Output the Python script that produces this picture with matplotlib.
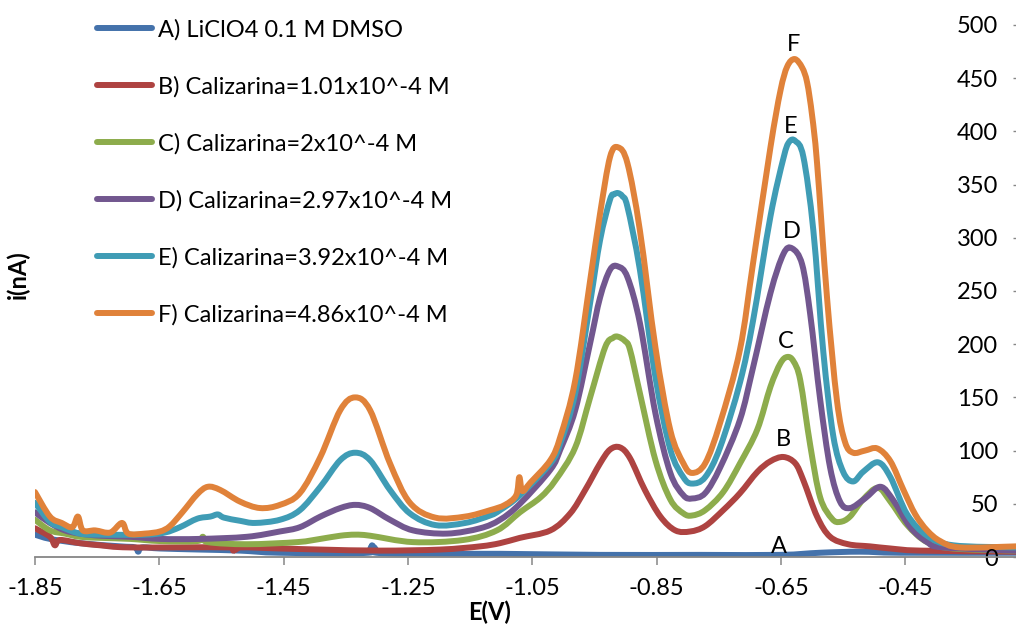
import matplotlib
matplotlib.use("Agg")
import matplotlib.pyplot as plt
from matplotlib.path import Path
from matplotlib.patches import PathPatch
from matplotlib.lines import Line2D

plt.rcParams['font.family'] = ['Lato', 'DejaVu Sans']
plt.rcParams['axes.unicode_minus'] = False

# ---- data (E in V, i in nA) ----
xA = [-1.850, -1.826, -1.778, -1.713, -1.689, -1.684, -1.678, -1.649, -1.585, -1.520, -1.456,
      -1.314, -1.308, -1.301, -1.198, -1.102, -0.941, -0.780, -0.651, -0.587, -0.523, -0.458, -0.272]
yA = [21, 17, 13, 10, 9, 5, 9, 8, 7, 6, 4,
      4, 11, 4, 3, 3, 2, 2, 2, 4, 5, 4, 4]

xB = [-1.850, -1.826, -1.818, -1.810, -1.778, -1.745, -1.697, -1.539, -1.531, -1.520, -1.456,
      -1.391, -1.295, -1.198, -1.134, -1.102, -1.070, -1.021, -0.989, -0.965, -0.941, -0.925,
      -0.909, -0.893, -0.869, -0.844, -0.820, -0.796, -0.772, -0.743, -0.716, -0.688, -0.667,
      -0.646, -0.627, -0.614, -0.592, -0.571, -0.542, -0.507, -0.474, -0.426, -0.272]
yB = [27, 19, 11, 16, 13, 11, 9, 9, 6, 9, 8,
      7, 6, 7, 10, 13, 18, 25, 41, 63, 88, 101,
      103, 93, 63, 38, 25, 24, 29, 44, 60, 80, 90,
      94, 88, 72, 38, 19, 12, 10, 8, 6, 5]

xC = [-1.850, -1.826, -1.802, -1.778, -1.745, -1.697, -1.649, -1.589, -1.580, -1.572, -1.509,
      -1.428, -1.391, -1.359, -1.335, -1.311, -1.242, -1.161, -1.107, -1.070, -1.037, -1.013,
      -0.981, -0.957, -0.933, -0.920, -0.912, -0.901, -0.893, -0.877, -0.852, -0.828, -0.807,
      -0.793, -0.772, -0.743, -0.716, -0.688, -0.667, -0.651, -0.640, -0.630, -0.619, -0.603,
      -0.587, -0.568, -0.555, -0.539, -0.518, -0.494, -0.474, -0.447, -0.415, -0.373, -0.272]
yC = [35, 25, 22, 19, 18, 17, 15, 15, 19, 14, 12,
      14, 17, 20, 21, 20, 14, 16, 25, 42, 56, 72,
      103, 150, 197, 206, 207, 203, 195, 154, 91, 54, 41,
      39, 44, 61, 88, 120, 160, 182, 188, 184, 166, 105,
      56, 36, 33, 38, 54, 65, 52, 30, 14, 8, 6]

xD = [-1.850, -1.826, -1.802, -1.778, -1.745, -1.697, -1.649, -1.585, -1.509, -1.456, -1.424,
      -1.391, -1.359, -1.335, -1.311, -1.279, -1.242, -1.187, -1.134, -1.102, -1.070, -1.021,
      -1.005, -0.981, -0.957, -0.941, -0.925, -0.912, -0.897, -0.877, -0.852, -0.828, -0.807,
      -0.793, -0.772, -0.748, -0.716, -0.695, -0.667, -0.646, -0.632, -0.616, -0.603, -0.587,
      -0.571, -0.555, -0.539, -0.515, -0.490, -0.469, -0.442, -0.415, -0.389, -0.272]
yD = [42, 32, 25, 22, 20, 19, 17, 17, 19, 24, 28,
      38, 46, 49, 46, 35, 25, 22, 27, 35, 50, 82,
      101, 138, 201, 244, 270, 273, 263, 220, 135, 79, 58,
      55, 60, 84, 129, 178, 248, 285, 290, 275, 228, 148,
      84, 52, 46, 55, 66, 53, 28, 14, 9, 6]

xE = [-1.850, -1.826, -1.807, -1.778, -1.745, -1.673, -1.641, -1.617, -1.589, -1.568, -1.556,
      -1.546, -1.520, -1.496, -1.456, -1.424, -1.391, -1.359, -1.335, -1.311, -1.279, -1.247,
      -1.206, -1.158, -1.118, -1.102, -1.070, -1.021, -1.005, -0.981, -0.957, -0.941, -0.925,
      -0.918, -0.912, -0.905, -0.897, -0.877, -0.852, -0.828, -0.807, -0.793, -0.772, -0.748,
      -0.716, -0.695, -0.667, -0.646, -0.637, -0.627, -0.614, -0.598, -0.582, -0.566, -0.550,
      -0.534, -0.518, -0.494, -0.474, -0.447, -0.415, -0.373, -0.272]
yE = [51, 33, 28, 22, 21, 21, 23, 28, 36, 38, 40,
      37, 34, 32, 35, 44, 66, 91, 98, 91, 63, 41,
      30, 32, 39, 44, 58, 88, 107, 154, 239, 298, 336,
      341, 342, 339, 329, 270, 169, 101, 75, 69, 75, 103,
      164, 222, 320, 375, 390, 391, 376, 307, 193, 114, 80,
      71, 80, 89, 75, 40, 20, 11, 9]

xF = [-1.850, -1.826, -1.807, -1.790, -1.781, -1.773, -1.753, -1.729, -1.710, -1.700, -1.673,
      -1.649, -1.633, -1.613, -1.589, -1.572, -1.552, -1.520, -1.488, -1.456, -1.424, -1.391,
      -1.359, -1.335, -1.311, -1.279, -1.247, -1.206, -1.158, -1.118, -1.094,
      -1.076, -1.071, -1.066, -1.053, -1.021, -1.005, -0.981, -0.957, -0.941, -0.925,
      -0.912, -0.897, -0.877, -0.852, -0.828, -0.807, -0.793, -0.772, -0.748, -0.716,
      -0.695, -0.667, -0.651, -0.640, -0.628, -0.616, -0.608, -0.600, -0.592, -0.576,
      -0.560, -0.547, -0.534, -0.515, -0.495, -0.474, -0.453, -0.434, -0.415, -0.394, -0.362,
      -0.272]
yF = [61, 38, 32, 28, 38, 25, 25, 23, 32, 22, 22,
      24, 29, 42, 59, 66, 63, 52, 46, 49, 60, 94,
      138, 150, 138, 88, 51, 37, 38, 44, 49,
      58, 75, 62, 70, 91, 113, 166, 260, 323, 376,
      385, 370, 307, 197, 119, 88, 79, 88, 126, 195,
      276, 385, 438, 461, 468, 460, 446, 415, 370, 244,
      147, 108, 98, 100, 102, 90, 63, 40, 25, 15, 9,
      10]

series_labels = ["A) LiClO4 0.1 M DMSO",
                 "B) Calizarina=1.01x10^-4 M",
                 "C) Calizarina=2x10^-4 M",
                 "D) Calizarina=2.97x10^-4 M",
                 "E) Calizarina=3.92x10^-4 M",
                 "F) Calizarina=4.86x10^-4 M"]
series_colors = ["#4472AB", "#AE4341", "#8DAC4C", "#72578F", "#3F9CB5", "#E0823A"]

peak_letters = ["A", "B", "C", "D", "E", "F"]
peak_x = [-0.653, -0.646, -0.642, -0.633, -0.635, -0.630]
peak_y = [10, 110, 203, 306, 405, 482]

x_ticks = [-1.85, -1.65, -1.45, -1.25, -1.05, -0.85, -0.65, -0.45]
y_ticks = [0, 50, 100, 150, 200, 250, 300, 350, 400, 450, 500]


def smooth_path(x, y):
    """Smoothed (Excel-like) curve through the data points as cubic Bezier segments."""
    pts = list(zip(x, y))
    n = len(pts)
    verts = [pts[0]]
    codes = [Path.MOVETO]
    for i in range(n - 1):
        p0 = pts[i - 1] if i > 0 else pts[i]
        p1 = pts[i]
        p2 = pts[i + 1]
        p3 = pts[i + 2] if i + 2 < n else pts[i + 1]
        c1 = (p1[0] + (p2[0] - p0[0]) / 6.0, p1[1] + (p2[1] - p0[1]) / 6.0)
        c2 = (p2[0] - (p3[0] - p1[0]) / 6.0, p2[1] - (p3[1] - p1[1]) / 6.0)
        verts += [c1, c2, p2]
        codes += [Path.CURVE4, Path.CURVE4, Path.CURVE4]
    return Path(verts, codes)


# ---- figure ----
W, H = 1016, 626
fig = plt.figure(figsize=(W / 100, H / 100), dpi=100)
ax = fig.add_axes([35 / W, 69 / H, (W - 35) / W, (557 - 25) / H])

LW = 4.3
xs = [xA, xB, xC, xD, xE, xF]
ys = [yA, yB, yC, yD, yE, yF]
handles = []
for x, y, lab, col in zip(xs, ys, series_labels, series_colors):
    patch = PathPatch(smooth_path(x, y), facecolor='none', edgecolor=col, lw=LW,
                      capstyle='round', joinstyle='round')
    ax.add_patch(patch)
    handles.append(Line2D([], [], color=col, lw=LW, solid_capstyle='round', label=lab))

for t, px, py in zip(peak_letters, peak_x, peak_y):
    ax.text(px, py, t, fontsize=17, ha='center', va='center', color='black')

ax.set_xlim(-1.85, -0.272)
ax.set_ylim(0, 500)

ax.set_xticks(x_ticks)
ax.set_xticklabels([f"{v:.2f}" for v in x_ticks])
ax.set_yticks(y_ticks)
ax.set_yticklabels([str(v) for v in y_ticks])

for s in ['top', 'left', 'right']:
    ax.spines[s].set_visible(False)
ax.spines['bottom'].set_color('#868686')
ax.spines['bottom'].set_linewidth(1.3)

ax.tick_params(axis='x', direction='out', length=6, width=1.1, color='#868686',
               labelsize=17, pad=9)
ax.tick_params(axis='y', left=False, labelleft=False, right=True, labelright=True,
               direction='in', length=2.5, width=1.0, color='#868686',
               labelsize=17, pad=-13)
for lbl in ax.get_yticklabels():
    lbl.set_horizontalalignment('right')

ax.set_xlabel("E(V)", fontsize=17, fontweight='bold')
ax.xaxis.set_label_coords((490 - 35) / (W - 35), (557 - 612) / (557 - 25))
ax.xaxis.label.set_va('center')
ax.set_ylabel("i(nA)", fontsize=17, fontweight='bold')
ax.yaxis.set_label_position('left')
ax.yaxis.set_label_coords((18 - 35) / (W - 35), (557 - 275) / (557 - 25))
ax.yaxis.label.set_va('center')

leg = ax.legend(handles=handles, loc='upper left', bbox_to_anchor=(97 / W, 1 - 19 / H),
                bbox_transform=fig.transFigure, frameon=False, fontsize=17,
                handlelength=2.35, handletextpad=0.22, labelspacing=1.5,
                borderpad=0, borderaxespad=0)

fig.savefig("out.png", dpi=100)
